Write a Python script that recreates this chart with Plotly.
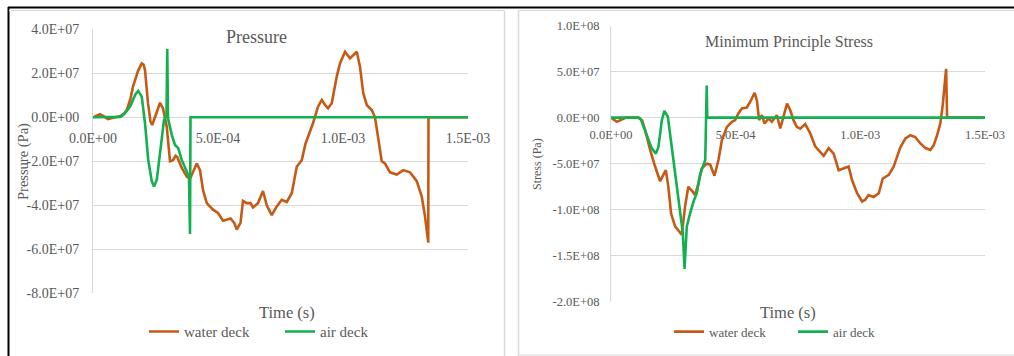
import plotly.graph_objects as go

W, H = 1014, 356

# ---------------- Pressure panel data (time in s, pressure in Pa) ----------------
press_water_t = [0.0, 1.5e-5, 2.8e-5, 4.5e-5, 6.0e-5, 8.0e-5, 1.1e-4, 1.25e-4, 1.35e-4, 1.5e-4,
                 1.6e-4, 1.8e-4, 1.95e-4, 2.02e-4, 2.08e-4, 2.2e-4, 2.3e-4, 2.37e-4, 2.45e-4, 2.55e-4,
                 2.68e-4, 2.8e-4, 2.95e-4, 3.08e-4, 3.2e-4, 3.3e-4, 3.37e-4, 3.55e-4, 3.75e-4, 3.88e-4,
                 4.0e-4, 4.15e-4, 4.28e-4, 4.4e-4, 4.55e-4, 4.8e-4, 5.0e-4, 5.2e-4, 5.5e-4, 5.65e-4,
                 5.75e-4, 5.9e-4, 6.0e-4, 6.15e-4, 6.3e-4, 6.4e-4, 6.6e-4, 6.8e-4, 6.95e-4, 7.15e-4,
                 7.35e-4, 7.55e-4, 7.75e-4, 7.95e-4, 8.15e-4, 8.35e-4, 8.5e-4, 8.6e-4, 8.8e-4, 9.0e-4,
                 9.15e-4, 9.28e-4, 9.4e-4, 9.55e-4, 9.75e-4, 9.88e-4, 1.008e-3, 1.028e-3, 1.055e-3, 1.068e-3,
                 1.081e-3, 1.095e-3, 1.115e-3, 1.128e-3, 1.141e-3, 1.155e-3, 1.168e-3, 1.188e-3, 1.215e-3, 1.241e-3,
                 1.268e-3, 1.295e-3, 1.315e-3, 1.328e-3, 1.341e-3, 1.342e-3, 1.5e-3]
press_water_v = [0.0, 0.6e6, 1.4e6, 0.3e6, -0.8e6, -0.2e6, 0.6e6, 1.8e6, 3.3e6, 8.5e6,
                 1.4e7, 2.1e7, 2.45e7, 2.4e7, 2.15e7, 6.4e6, -2.0e6, -3.5e6, -1.0e6, 1.8e6,
                 6.6e6, 4.0e6, -4.3e6, -2.0e7, -1.95e7, -1.75e7, -1.8e7, -2.3e7, -2.7e7, -2.8e7,
                 -2.5e7, -2.1e7, -2.4e7, -3.3e7, -3.9e7, -4.2e7, -4.35e7, -4.7e7, -4.6e7, -4.8e7,
                 -5.1e7, -4.8e7, -3.8e7, -3.9e7, -3.9e7, -4.1e7, -3.9e7, -3.35e7, -4.0e7, -4.45e7,
                 -4.05e7, -3.75e7, -3.85e7, -3.45e7, -2.25e7, -1.95e7, -1.2e7, -0.9e7, -2.7e6, 4.8e6,
                 7.9e6, 5.6e6, 4.1e6, 6.4e6, 1.85e7, 2.45e7, 2.98e7, 2.68e7, 2.98e7, 2.3e7,
                 1.1e7, 5.6e6, 3.3e6, 0.0, -1.0e7, -2.0e7, -2.1e7, -2.5e7, -2.6e7, -2.4e7,
                 -2.5e7, -2.9e7, -3.6e7, -4.5e7, -5.7e7, 0.0, 0.0]

press_air_t = [0.0, 1.1e-4, 1.25e-4, 1.48e-4, 1.7e-4, 1.81e-4, 1.95e-4, 2.08e-4, 2.21e-4, 2.35e-4,
               2.44e-4, 2.55e-4, 2.68e-4, 2.84e-4, 2.94e-4, 2.97e-4, 3.0e-4, 3.15e-4, 3.28e-4, 3.41e-4,
               3.55e-4, 3.68e-4, 3.84e-4, 3.88e-4, 3.9e-4, 1.5e-3]
press_air_v = [0.0, 0.2e6, 1.5e6, 4.8e6, 1.05e7, 1.2e7, 9.4e6, -2.7e6, -1.94e7, -2.9e7,
               -3.15e7, -2.85e7, -1.64e7, -1.2e6, 1.0e6, 3.1e7, -0.5e6, -8.0e6, -1.26e7, -1.4e7,
               -1.94e7, -2.3e7, -2.7e7, -5.3e7, 0.0, 0.0]

# ---------------- Minimum principle stress panel data (time in s, stress in Pa) ----------------
stress_water_t = [0.0, 2.3e-5, 4.3e-5, 6.0e-5, 1.1e-4, 1.25e-4, 1.37e-4, 1.57e-4, 1.77e-4, 1.97e-4,
                  2.1e-4, 2.2e-4, 2.3e-4, 2.41e-4, 2.57e-4, 2.7e-4, 2.84e-4, 2.97e-4, 3.1e-4, 3.27e-4,
                  3.37e-4, 3.51e-4, 3.64e-4, 3.84e-4, 3.98e-4, 4.15e-4, 4.31e-4, 4.45e-4, 4.65e-4, 4.85e-4,
                  4.98e-4, 5.11e-4, 5.25e-4, 5.45e-4, 5.58e-4, 5.76e-4, 5.85e-4, 5.94e-4, 6.05e-4, 6.16e-4,
                  6.32e-4, 6.45e-4, 6.65e-4, 6.79e-4, 6.92e-4, 7.06e-4, 7.19e-4, 7.32e-4, 7.45e-4, 7.59e-4,
                  7.79e-4, 7.99e-4, 8.19e-4, 8.39e-4, 8.53e-4, 8.73e-4, 8.93e-4, 9.13e-4, 9.33e-4, 9.53e-4,
                  9.67e-4, 9.87e-4, 1.007e-3, 1.02e-3, 1.033e-3, 1.053e-3, 1.074e-3, 1.09e-3, 1.114e-3, 1.134e-3,
                  1.148e-3, 1.161e-3, 1.181e-3, 1.2e-3, 1.22e-3, 1.241e-3, 1.261e-3, 1.281e-3, 1.294e-3, 1.308e-3,
                  1.321e-3, 1.331e-3, 1.344e-3, 1.348e-3, 1.5e-3]
stress_water_v = [0.0, -4.5e6, -2.0e6, 0.0, 0.0, -3.0e6, -1.35e7, -3.5e7, -5.3e7, -6.9e7,
                  -6.2e7, -5.7e7, -7.5e7, -1.04e8, -1.18e8, -1.22e8, -1.27e8, -9.65e7, -7.5e7, -8.0e7,
                  -8.4e7, -7.1e7, -5.5e7, -5.0e7, -5.1e7, -6.3e7, -4.6e7, -2.4e7, -1.0e7, -4.5e6,
                  -2.7e6, 4.5e6, 1.0e7, 1.1e7, 1.7e7, 2.7e7, 1.9e7, -2.7e6, 2.7e6, -6.3e6,
                  -0.9e6, -4.5e6, 2.7e6, -1.17e7, 0.9e6, 1.54e7, 8.0e6, -2.7e6, -1.0e7, -1.2e7,
                  -7.0e6, -1.7e7, -3.1e7, -3.7e7, -4.15e7, -3.3e7, -3.9e7, -5.7e7, -5.5e7, -5.3e7,
                  -6.8e7, -8.2e7, -9.1e7, -8.9e7, -8.4e7, -8.6e7, -8.2e7, -6.6e7, -6.2e7, -5.3e7,
                  -4.2e7, -3.2e7, -2.25e7, -1.9e7, -2.1e7, -2.8e7, -3.3e7, -3.5e7, -3.0e7, -1.9e7,
                  -6.0e6, 1.5e7, 5.3e7, 0.0, 0.0]

stress_air_t = [0.0, 1.1e-4, 1.2e-4, 1.37e-4, 1.63e-4, 1.8e-4, 1.9e-4, 2.04e-4, 2.14e-4, 2.28e-4,
                2.44e-4, 2.64e-4, 2.81e-4, 2.88e-4, 2.95e-4, 3.04e-4, 3.17e-4, 3.31e-4, 3.44e-4, 3.57e-4,
                3.71e-4, 3.78e-4, 3.84e-4, 3.86e-4, 1.5e-3]
stress_air_v = [0.0, 0.0, -2.0e6, -1.35e7, -3.3e7, -3.9e7, -3.2e7, -2.7e6, 7.4e6, 1.0e6,
                -3.2e7, -7.5e7, -1.11e8, -1.25e8, -1.64e8, -1.18e8, -1.04e8, -9.1e7, -8.2e7, -6.2e7,
                -5.1e7, -4.6e7, 3.5e7, 0.0, 0.0]

# ---------------- Axis ticks ----------------
time_ticks = [0.0, 5.0e-4, 1.0e-3, 1.5e-3]
time_labels = ["0.0E+00", "5.0E-04", "1.0E-03", "1.5E-03"]
press_ticks = [4e7, 2e7, 0, -2e7, -4e7, -6e7, -8e7]
press_labels = ["4.0E+07", "2.0E+07", "0.0E+00", "-2.0E+07", "-4.0E+07", "-6.0E+07", "-8.0E+07"]
stress_ticks = [1e8, 5e7, 0, -5e7, -1e8, -1.5e8, -2e8]
stress_labels = ["1.0E+08", "5.0E+07", "0.0E+00", "-5.0E+07", "-1.0E+08", "-1.5E+08", "-2.0E+08"]

series_names = ["water deck", "air deck"]
ORANGE = "#C65A14"
GREEN = "#12B04F"
GRID = "#D9D9D9"
TXT = "#595959"
FONT = "Liberation Serif"


def px_x(p):
    return p / W


def px_y(p):
    return 1 - p / H


fig = go.Figure()

fig.add_trace(go.Scatter(x=press_water_t, y=press_water_v, mode="lines", name=series_names[0],
                         line=dict(color=ORANGE, width=2.6), xaxis="x", yaxis="y", legend="legend"))
fig.add_trace(go.Scatter(x=press_air_t, y=press_air_v, mode="lines", name=series_names[1],
                         line=dict(color=GREEN, width=2.6), xaxis="x", yaxis="y", legend="legend"))
fig.add_trace(go.Scatter(x=stress_water_t, y=stress_water_v, mode="lines", name=series_names[0],
                         line=dict(color=ORANGE, width=2.6), xaxis="x2", yaxis="y2", legend="legend2"))
fig.add_trace(go.Scatter(x=stress_air_t, y=stress_air_v, mode="lines", name=series_names[1],
                         line=dict(color=GREEN, width=2.6), xaxis="x2", yaxis="y2", legend="legend2"))

common_x = dict(showgrid=False, zeroline=False, showline=False, ticks="outside", automargin=False,
                tickcolor="rgba(0,0,0,0)", anchor="free", tickvals=time_ticks)
common_y = dict(showgrid=True, gridcolor=GRID, gridwidth=1, zeroline=False, showline=True,
                linecolor=GRID, linewidth=1, ticks="outside", tickcolor="rgba(0,0,0,0)",
                automargin=False)

fig.update_layout(
    template="none",
    width=W, height=H, autosize=False,
    margin=dict(l=0, r=0, t=0, b=0, pad=0),
    paper_bgcolor="white", plot_bgcolor="white",
    font=dict(family=FONT, color=TXT),
    xaxis=dict(common_x, domain=[px_x(93), px_x(468)], range=[0, 1.5e-3],
               position=px_y(117.3), ticktext=time_labels, ticklen=8,
               tickfont=dict(family=FONT, size=14, color=TXT)),
    yaxis=dict(common_y, domain=[px_y(293.3), px_y(29.3)], range=[-8e7, 4e7], anchor="x",
               tickvals=press_ticks, ticktext=press_labels, ticklen=10,
               tickfont=dict(family=FONT, size=14, color=TXT)),
    xaxis2=dict(common_x, domain=[px_x(611), px_x(985)], range=[0, 1.5e-3],
                position=px_y(117.5), ticktext=time_labels, ticklen=5,
                tickfont=dict(family=FONT, size=12.5, color=TXT)),
    yaxis2=dict(common_y, domain=[px_y(302), px_y(25.5)], range=[-2e8, 1e8], anchor="x2",
                tickvals=stress_ticks, ticktext=stress_labels, ticklen=8,
                tickfont=dict(family=FONT, size=12.5, color=TXT)),
    legend=dict(orientation="h", x=px_x(144), xanchor="left", y=px_y(331.7), yanchor="middle",
                font=dict(family=FONT, size=15, color=TXT), bgcolor="rgba(0,0,0,0)",
                entrywidth=91, entrywidthmode="pixels", itemwidth=30),
    legend2=dict(orientation="h", x=px_x(669), xanchor="left", y=px_y(331.7), yanchor="middle",
                 font=dict(family=FONT, size=13, color=TXT), bgcolor="rgba(0,0,0,0)",
                 entrywidth=79, entrywidthmode="pixels", itemwidth=30),
)

# Chart titles and axis titles
notes = [
    dict(text="Pressure", x=px_x(256), y=px_y(37), size=18),
    dict(text="Minimum Principle Stress", x=px_x(789), y=px_y(42), size=16),
    dict(text="Time (s)", x=px_x(287), y=px_y(312), size=16.5),
    dict(text="Time (s)", x=px_x(788), y=px_y(312), size=16.5),
]
for n in notes:
    fig.add_annotation(text=n["text"], x=n["x"], y=n["y"], xref="paper", yref="paper",
                       xanchor="center", yanchor="middle", showarrow=False,
                       font=dict(family=FONT, size=n["size"], color=TXT))
fig.add_annotation(text="Pressure (Pa)", x=px_x(23), y=px_y(162), xref="paper", yref="paper",
                   xanchor="center", yanchor="middle", showarrow=False, textangle=-90,
                   font=dict(family=FONT, size=14.5, color=TXT))
fig.add_annotation(text="Stress (Pa)", x=px_x(537), y=px_y(164), xref="paper", yref="paper",
                   xanchor="center", yanchor="middle", showarrow=False, textangle=-90,
                   font=dict(family=FONT, size=12, color=TXT))

# Panel frames
frame = [
    (8, 7.5, 1014, 7.5, "black", 2),
    (8.5, 7, 8.5, 356, "black", 2),
    (9, 10.5, 504, 10.5, GRID, 1),
    (504.5, 10.5, 504.5, 356, GRID, 1.5),
    (518.5, 10.5, 518.5, 356, GRID, 1.5),
    (518, 10.5, 1014, 10.5, GRID, 1),
    (518, 355, 1014, 355, GRID, 1),
]
for x0, y0, x1, y1, c, w in frame:
    fig.add_shape(type="line", xref="paper", yref="paper",
                  x0=px_x(x0), y0=px_y(y0), x1=px_x(x1), y1=px_y(y1),
                  line=dict(color=c, width=w))

fig.write_html("out.html")
